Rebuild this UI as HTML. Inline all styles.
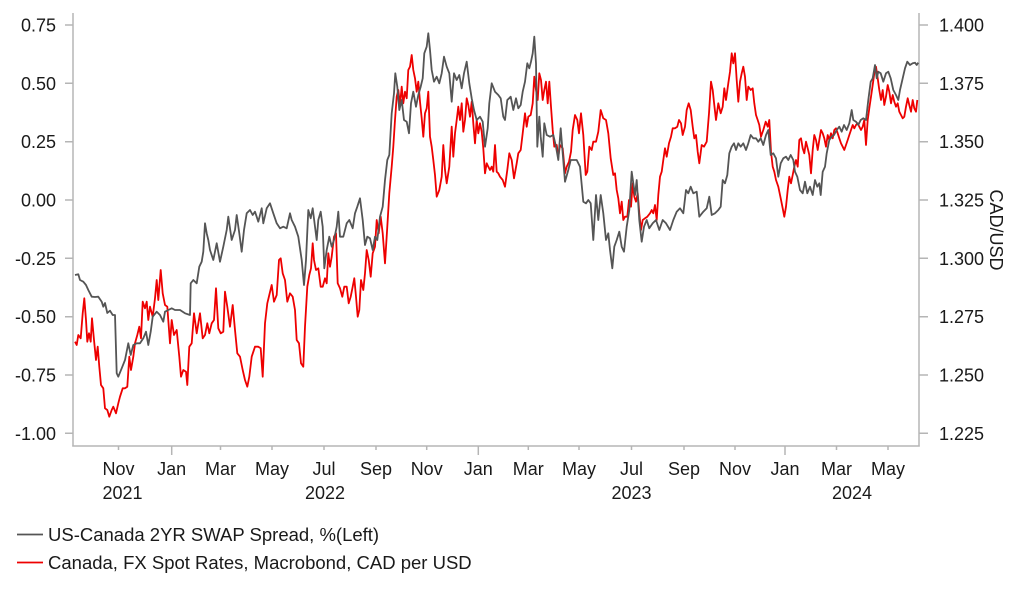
<!DOCTYPE html>
<html><head><meta charset="utf-8"><style>
html,body{margin:0;padding:0;background:#fff;}
svg{display:block;}
text{font-family:"Liberation Sans",Arial,sans-serif;font-size:18px;fill:#1a1a1a;}
text.lg{font-size:18.5px;}
</style></head><body>
<svg width="1022" height="597" viewBox="0 0 1022 597" xmlns="http://www.w3.org/2000/svg">
<rect width="1022" height="597" fill="#fff"/>
<g stroke="#b5b5b5" stroke-width="1.5" fill="none">
<line x1="73" y1="13" x2="73" y2="446.5"/>
<line x1="72.3" y1="446" x2="919.7" y2="446"/>
<line x1="919" y1="13" x2="919" y2="446.5"/>
<path d="M65 25H73M65 83.3H73M65 141.7H73M65 200H73M65 258.3H73M65 316.7H73M65 375H73M65 433.3H73"/>
<path d="M919 25H928M919 83.3H928M919 141.7H928M919 200H928M919 258.3H928M919 316.7H928M919 375H928M919 433.3H928"/>
<path d="M118.5 446V450M171.7 446V455M220.5 446V450M272 446V450M324 446V450M376 446V450M426.7 446V450M478.3 446V455M528.3 446V450M579 446V450M631.5 446V450M684 446V450M735 446V450M785 446V455M836.5 446V450M888 446V450"/>
</g>
<g text-anchor="end">
<text x="56" y="31.5">0.75</text>
<text x="56" y="89.8">0.50</text>
<text x="56" y="148.2">0.25</text>
<text x="56" y="206.5">0.00</text>
<text x="56" y="264.8">-0.25</text>
<text x="56" y="323.2">-0.50</text>
<text x="56" y="381.5">-0.75</text>
<text x="56" y="439.8">-1.00</text>
</g>
<g text-anchor="start">
<text x="939" y="31.5">1.400</text>
<text x="939" y="89.8">1.375</text>
<text x="939" y="148.2">1.350</text>
<text x="939" y="206.5">1.325</text>
<text x="939" y="264.8">1.300</text>
<text x="939" y="323.2">1.275</text>
<text x="939" y="381.5">1.250</text>
<text x="939" y="439.8">1.225</text>
</g>
<text transform="translate(990,230) rotate(90)" text-anchor="middle">CAD/USD</text>
<g text-anchor="middle">
<text x="118.5" y="475">Nov</text>
<text x="171.7" y="475">Jan</text>
<text x="220.5" y="475">Mar</text>
<text x="272" y="475">May</text>
<text x="324" y="475">Jul</text>
<text x="376" y="475">Sep</text>
<text x="426.7" y="475">Nov</text>
<text x="478.3" y="475">Jan</text>
<text x="528.3" y="475">Mar</text>
<text x="579" y="475">May</text>
<text x="631.5" y="475">Jul</text>
<text x="684" y="475">Sep</text>
<text x="735" y="475">Nov</text>
<text x="785" y="475">Jan</text>
<text x="836.5" y="475">Mar</text>
<text x="888" y="475">May</text>
<text x="122.5" y="499">2021</text>
<text x="325" y="499">2022</text>
<text x="631.5" y="499">2023</text>
<text x="852" y="499">2024</text>
</g>
<polyline fill="none" stroke="#ee0000" stroke-width="1.8" stroke-linejoin="round" points="75,341.7 76.7,345 78.3,335 80.7,338.3 82.7,313.3 84.3,298.3 86,320 87.3,341.7 89,333.3 90.7,341.7 92,318.3 94,340 96,360 97.7,346.7 99.3,366.7 101,385 103.3,388.3 105,408.3 107.3,410 109.3,416.7 111.7,410 113.3,406.7 116,413.3 118.3,403.3 120,396.7 122.7,388.3 125,388.3 127.3,386.7 129.3,356.7 131,370 133.3,356.7 135,343.3 137.3,335 139.3,326.7 141,338.3 142.7,301.7 145,308.3 146.7,301.7 148.3,320 150,306.7 152.7,316.7 155,298.3 156.7,280 158.3,300 160.7,270 162.7,293.3 165,305 167.3,306.7 170,343.3 171.7,320 174,335 176.7,330 179.3,356.7 181,376.7 183.3,370 186,371.7 187.3,385 189.3,346.7 191.7,343.3 194,313.3 196.7,333.3 200,313.3 202.7,338.3 205,335 207.3,323.3 209.3,333.3 211.7,323.3 214,320 216,288.3 218.3,328.3 220.7,333.3 223.3,331.7 225,291.7 227.3,306.7 230,326.7 232.7,305 235,330 237.3,353.3 240,356.7 242.7,370 245,380 247.3,386.7 249.3,376.7 251.7,356.7 255,346.7 258.3,346.7 260.7,348.3 262.7,376.7 265,323.3 267.3,303.3 269.3,295 271.7,285 274,301.7 276.7,295 279,260 280.7,258.3 282.7,273.3 285,280 287.3,301.7 290,293.3 292.7,296.7 295,310 296.7,340 299,343.3 301,363.3 303.3,366.7 305,326.7 307.3,286.7 309.3,275 311,268.3 312.7,243.3 314,260 316,270 318.3,268.3 320.7,286.7 322.7,286.7 325,278.3 326.7,283.3 328.3,253.3 330,266.7 331.7,256.7 334,236.7 336,233.3 337.7,283.3 340,288.3 342.3,296.7 344.3,286.7 346.7,286.7 348.7,303.3 350.7,296.7 352.7,286.7 354.3,278.3 356,296.7 357.7,316.7 359.3,310 361,280 363.3,290 365,273.3 366.7,250 368.7,260 370.7,276.7 372.7,253.3 375,246.7 376.7,220 378.7,233.3 380.7,216.7 382.7,233.3 385,263.3 387.3,226.7 389.3,193.3 391.7,166.7 393.3,146.7 395,120 396.7,96.7 398.3,90 400,105 401.7,86.7 403.3,103.3 405,91.7 406.7,98.3 408.3,70 410,66.7 411.7,55 413.3,70 415,78.3 416.7,91.7 418.3,81.7 420,101.7 421.7,118.3 423.3,136.7 425,113.3 426.7,108.3 428.3,91.7 430,136.7 431.7,146.7 433.3,160 435,175 436.7,196.7 439.3,190 441.7,176.7 443.3,145 445,170 446.7,183.3 449.3,166.7 451.7,126.7 453.3,156.7 455,133.3 456.7,120 458.3,106.7 460,120 461.7,103.3 463.3,131.7 465,120 466.7,98.3 468.3,105 470,116.7 471.7,101.7 473.3,123.3 475,143.3 476.7,120 478.3,133.3 480,123.3 481.7,131.7 483.3,148.3 485,173.3 486.7,163.3 488.3,166.7 490,170 491.7,166.7 493.3,171.7 495,145 496.7,171.7 498.3,173.3 500,176.7 502.7,180 505,186.7 507.3,170 509.3,153.3 511.7,160 514,178.3 516.7,163.3 518.3,153.3 520.7,150 522.7,133.3 525,113.3 526.7,126.7 528.3,116.7 530.7,115 532.7,103.3 534.3,76.7 536,90 537.7,100 539.3,73.3 541,80 542.7,100 544.3,90 546,81.7 547.7,103.3 549.3,81.7 551,106.7 552.7,130 554.3,146.7 556.7,145 558.3,156.7 560,145 562.7,148.3 565,173.3 566.7,166.7 569,161.7 571,151.7 572.7,130 575,115 577.3,120 579,133.3 581,113.3 583.3,135 585.7,175 587.3,171.7 589.3,146.7 591.7,150 593.3,141.7 596,141.7 598.3,131.7 600.7,110 603.3,118.3 606,120 608.3,133.3 610.7,158.3 613.3,175 615,173.3 616.7,190 618.3,198.3 620,213.3 621.7,201.7 623.3,220 625,216.7 627.3,216.7 629,200 631,206.7 632.7,183.3 634.3,196.7 636,201.7 637.7,193.3 639.3,213.3 641,230 642.7,220 645,218.3 647.3,216.7 650,213.3 651.7,210 653.3,213.3 655,205 656.7,220 658.3,195 660,176.7 661.7,171.7 663.3,160 665,148.3 666.7,156.7 669,143.3 671,136.7 672.7,128.3 675,128.3 677.3,126.7 679,120 681,123.3 682.7,135 685,126.7 686.7,110 688.7,103.3 690.7,110 692.7,126.7 694.3,138.3 696,135 697.7,151.7 699.3,163.3 701.7,145 704,146.7 706.7,141.7 709,113.3 711,81.7 712.7,90 714.3,105 716,120 718.3,103.3 720.7,113.3 722.7,106.7 724.3,88.3 726,100 728.3,83.3 730,71.7 731.7,53.3 733.3,63.3 735,53.3 736.7,80 738.3,101.7 740,81.7 741.7,73.3 743.3,66.7 745,76.7 746.7,100 748.3,86.7 750.7,90 752.7,88.3 754.3,103.3 756,115 757.7,120 759.3,125 761,136.7 763.3,130 765.7,121.7 767.7,126.7 769.3,120 771,151.7 772.7,166.7 774.3,171.7 776,180 778.3,186.7 780.7,198.3 782.7,208.3 784.3,216.7 786,206.7 787.7,190 789.3,176.7 791,183.3 792.7,175 794.3,166.7 796,160 797.7,166.7 799.3,140 801,138.3 802.7,148.3 804.3,153.3 806,141.7 807.7,148.3 809.3,155 811,173.3 812.7,150 814.3,135 816,140 817.7,150 819.3,140 821,130 822.7,133.3 824.3,138.3 826,146.7 827.7,135 829.3,140 831,133.3 832.7,138.3 834.3,130 836,128.3 837.7,133.3 839.3,138.3 841,143.3 842.7,146.7 844.3,150 846,145 847.7,140 849.3,135 851,130 852.7,125 854.3,128.3 856,125 857.7,123.3 859.3,126.7 861,130 862.7,126.7 864.3,120 866,145 867.7,120 869.3,108.3 871,96.7 872.7,85 874.3,73.3 876,66.7 877.7,78.3 879.3,90 881,100 882.7,90 884.3,105 886,96.7 887.7,85 889.3,91.7 891,103.3 892.7,95 894.3,101.7 896,106.7 897.7,103.3 899.3,111.7 901,115 902.7,118.3 904.3,116.7 906,106.7 907.7,98.3 909.3,105 911,111.7 912.7,100 914.3,108.3 916,111.7 917.3,100"/>
<polyline fill="none" stroke="#555555" stroke-width="1.8" stroke-linejoin="round" points="75,275 78.3,274.3 80,280 83.3,281.7 86,285 88.3,290 91.7,296.7 95,297 98.3,296.7 101.7,301.7 103.3,306.7 105,303 107.3,313 110,310.7 112.7,315 115,315 116.7,373.3 118.3,376.7 121.7,368.3 125,360 128.3,343.3 130.7,355 133.3,345 136.7,343.3 140,343.3 143.3,338.3 146,331.7 148.3,345 150.7,331.7 152.7,316.7 156.7,311.7 160,315 163.3,321.7 165,311.7 168.3,310 171.7,308.3 175,310 180,310 185,313.3 190,315 190.7,283.3 193.3,280 196.7,283.3 199.3,266.7 201.7,261.7 203.3,251.7 205,223.3 206.7,233.3 208.3,240 210,250 213.3,260 216.7,243.3 220,261.7 223.3,246.7 226.7,230 228.3,216.7 231.7,240 235,230 236.7,215 239.3,233.3 241.7,251.7 244,230 246.7,213.3 250,210 252.7,215 255,211.7 258.3,221.7 261.7,208.3 263.3,223.3 266.7,208.3 270,203.3 273.3,213.3 276.7,223.3 280,228.3 283.3,226.7 286.7,228.3 290,213.3 291.7,220 295,226.7 298.3,236.7 301.7,260 304,285 306,260 308.3,210 310.7,218.3 312.7,208.3 315,226.7 316.7,240 318.3,220 320.7,211.7 322.7,226.7 324.3,268.3 326.7,250 329.3,236.7 331.7,246.7 334,240 336.7,226.7 338.3,211.7 340,236.7 343.3,236.7 346.7,223.3 349.3,220 352.7,228.3 355,213.3 357.3,206.7 360,198.3 362.7,220 365,245 367.3,236.7 370,238.3 372.7,250 375,236.7 377.3,240 380,216.7 382.7,206.7 385,180 387.3,160 389.3,155 391.7,113.3 394,93.3 395.3,73.3 397.3,86.7 399.3,110 401.7,100 404,120 406.7,121.7 409,133.3 411,103.3 413.3,91.7 416,106.7 418.3,95 420.7,86.7 422.7,78.3 424.3,53.3 426.7,46.7 428.3,33.3 430,50 431.7,70 434,81.7 436.7,76.7 439.3,83.3 441.7,73.3 444,56.7 446.7,66.7 449.3,73.3 451.7,101.7 454,73.3 456.7,80 459.3,75 461.7,88.3 464,73.3 466.7,61.7 469.3,83.3 471.7,98.3 474,110 476.7,120 480,116.7 482.7,121.7 485,146.7 487.7,128.3 489.3,103.3 491.7,83.3 495,91.7 498.3,95 500.7,98.3 503.3,116.7 505,120 507.3,100 510.7,96.7 513.3,110 516,98.3 518.3,108.3 520.7,105 522.7,91.7 525,81.7 527.3,63.3 529.3,68.3 531,61.7 532.7,53.3 534.3,36.7 536,63.3 537.3,146.7 539.3,116.7 540.7,136.7 542.7,156.7 544.3,123.3 546.7,135 550,136.7 553.3,135 556,146.7 558.3,160 560.7,128.3 562.7,153.3 565,181.7 568.3,170 570.7,160 573.3,160 576.7,160 580,166.7 583.3,201.7 586,203.3 588.3,200 590.7,203.3 593.3,240 596,195 598.3,220 600.7,195 603.3,213.3 606,240 608.3,233.3 610,250 612.3,268.3 614.3,246.7 616.7,240 619.3,231.7 621.7,246.7 624,251.7 626.7,226.7 629.3,210 631.7,171.7 633.3,183.3 635,195 636.7,180 639.3,220 641.7,241.7 644,226.7 646.7,220 649.3,228.3 652.7,223.3 656,220 659.3,230 662.7,220 666,223.3 670,230 673.3,220 676.7,211.7 680,208.3 683.3,213.3 686,190 688.3,193.3 690.7,186.7 693.3,193.3 696.7,191.7 699.3,216.7 703.3,211.7 706.7,208.3 709.3,196.7 711.7,215 715,213.3 718.3,210 720.7,206.7 722.7,180 725,183.3 727.3,175 729.3,153.3 731.7,146.7 734,143.3 736,150 738.3,143.3 740.7,146.7 743.3,143.3 746,150 748.3,143.3 750.7,135 753.3,138.3 756,138.3 758.3,141.7 760.7,138.3 763.3,145 766,135 768.3,130 770.7,155 773.3,153.3 776,158.3 778.3,176.7 780.7,163.3 783.3,158.3 786,156.7 788.3,160 790.7,155 793.3,160 795,171.7 797.3,176.7 800,190 802.7,193.3 805,181.7 807.3,193.3 810,186.7 812.7,195 815,180 817.3,186.7 819.3,183.3 820.7,195 822.7,171.7 825,166.7 826.7,153.3 829.3,140 831.7,136.7 834,135 836.7,130 839.3,126.7 841.7,131.7 844,125 846.7,130 849.3,123.3 851.7,110 853.3,120 856,121.7 858.3,125 860.7,120 863.3,118.3 866,120 868.3,100 870.7,81.7 872.7,78.3 875,65 876.7,78.3 878.3,71.7 880.7,73.3 883.3,81.7 886,73.3 888.3,71.7 890.7,78.3 893.3,90 896,95 898.3,100 900,90 902.7,78.3 905,68.3 907.3,61.7 910,65 912.7,63.3 915,62.7 916.7,65 918.3,62.7"/>
<line x1="17" y1="534.5" x2="43" y2="534.5" stroke="#555555" stroke-width="1.8"/>
<text class="lg" x="48" y="541">US-Canada 2YR SWAP Spread, %(Left)</text>
<line x1="17" y1="562.5" x2="43" y2="562.5" stroke="#ee0000" stroke-width="1.8"/>
<text class="lg" x="48" y="569">Canada, FX Spot Rates, Macrobond, CAD per USD</text>
</svg>
</body></html>
